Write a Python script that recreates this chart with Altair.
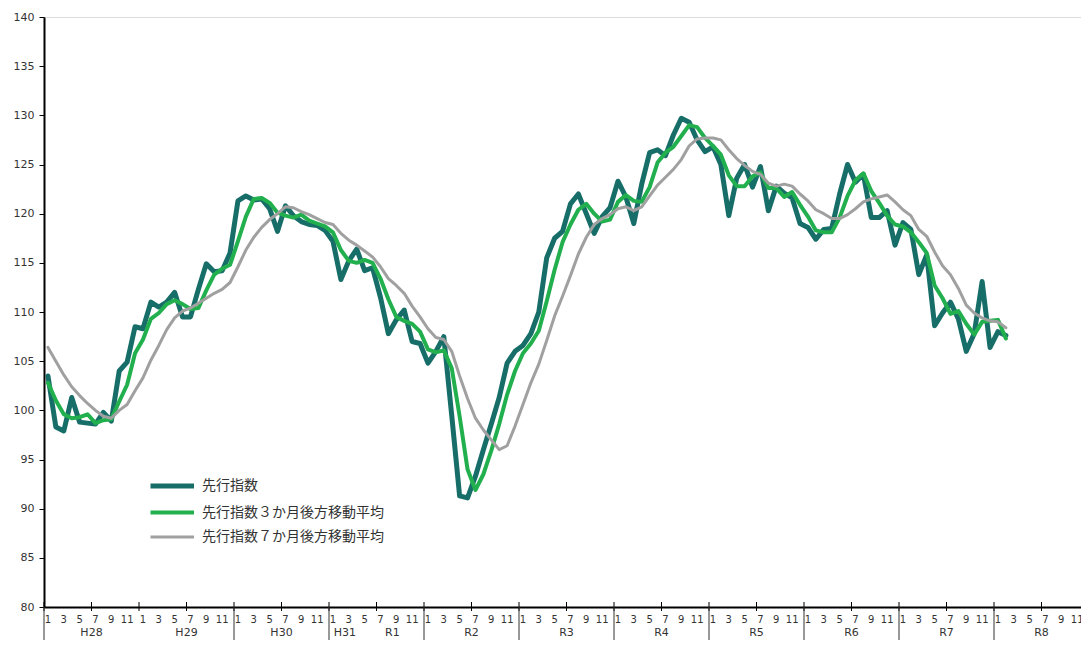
import altair as alt
import pandas as pd

# 先行指数 (monthly, from H28(2016) Jan)
leading = [
    103.5, 98.3, 97.9, 101.3, 98.8, 98.7, 98.6, 99.8, 98.9, 104.0, 104.9, 108.5,
    108.3, 111.0, 110.5, 111.0, 112.0, 109.5, 109.5, 112.3, 114.9, 114.1, 114.2, 116.0,
    121.3, 121.8, 121.4, 121.5, 120.5, 118.2, 120.8, 119.8, 119.2, 118.9, 118.8, 118.3,
    117.2, 113.3, 115.2, 116.4, 114.2, 114.5, 111.5, 107.8, 109.2, 110.2, 107.0, 106.8,
    104.8, 106.0, 107.5, 99.5, 91.3, 91.1, 93.3, 96.0, 98.6, 101.3, 104.8, 106.0,
    106.6, 107.8, 110.0, 115.5, 117.5, 118.2, 121.0, 122.0, 120.0, 118.0, 119.7, 120.6,
    123.3, 121.7, 119.0, 123.0, 126.2, 126.5, 125.9, 128.0, 129.7, 129.3, 127.5, 126.3,
    126.8, 125.0, 119.8, 123.6, 125.0, 122.7, 124.8, 120.3, 122.8, 122.1, 121.6, 119.0,
    118.6, 117.4, 118.4, 118.5, 122.0, 125.0, 123.2, 124.0, 119.6, 119.6, 120.3, 116.8,
    119.1, 118.4, 113.8, 115.8, 108.6, 109.9, 111.0, 109.3, 106.0, 107.8, 113.1, 106.4,
    108.0, 107.6,
]
# 先行指数３か月後方移動平均
ma3 = [
    102.8, 101.0, 99.6, 99.2, 99.3, 99.6, 98.7, 99.0, 99.1, 100.9, 102.6, 105.8,
    107.2, 109.3, 109.9, 110.8, 111.2, 110.8, 110.3, 110.4, 112.2, 113.8, 114.4, 114.8,
    117.2, 119.7, 121.5, 121.6, 121.1, 120.1, 119.8, 119.6, 119.9, 119.3, 119.0, 118.7,
    118.1, 116.3, 115.2, 115.0, 115.3, 115.0, 113.4, 111.3, 109.5, 109.1, 108.8, 108.0,
    106.2, 105.9, 106.1, 104.3, 99.4, 94.0, 91.9, 93.5, 95.9, 98.6, 101.6, 104.0,
    105.8, 106.8, 108.1, 111.1, 114.3, 117.1, 118.9, 120.4, 121.0, 120.0, 119.2, 119.4,
    121.2, 121.9, 121.3, 121.2, 122.7, 125.2, 126.2, 126.8, 127.9, 129.0, 128.8, 127.7,
    126.9, 126.0, 123.9, 122.8, 122.8, 123.8, 124.2, 122.6, 122.6, 121.7, 122.2, 120.9,
    119.7, 118.3, 118.1, 118.1, 119.6, 121.8, 123.4, 124.1, 122.3, 121.1, 119.8, 118.9,
    118.7, 118.1, 117.1, 116.0, 112.7, 111.4, 109.8, 110.1, 108.8, 107.7, 109.0, 109.1,
    109.2, 107.3,
]
# 先行指数７か月後方移動平均
ma7 = [
    106.4, 105.0, 103.6, 102.4, 101.5, 100.7, 100.0, 99.4, 99.2, 100.0, 100.6, 102.0,
    103.3, 105.1, 106.6, 108.2, 109.4, 110.1, 110.4, 110.9, 111.4, 111.9, 112.3, 113.0,
    114.6, 116.3, 117.6, 118.6, 119.4, 120.0, 120.7, 120.6, 120.2, 119.9, 119.5, 119.1,
    118.9, 118.0, 117.3, 116.8, 116.2, 115.6, 114.6, 113.4, 112.7, 111.9, 110.6, 109.5,
    108.3, 107.4, 107.2, 106.0, 103.5, 101.2, 99.2, 98.0, 97.0, 96.0, 96.4, 98.4,
    100.6, 102.8, 104.7, 107.1, 109.6, 111.6, 113.7, 115.9, 117.6, 118.9, 119.5, 119.9,
    120.5, 120.7, 120.3, 120.7, 121.8, 122.9, 123.7, 124.5, 125.5, 126.9, 127.6, 127.7,
    127.7, 127.5, 126.5, 125.6, 124.9, 124.3, 124.0, 123.1, 122.8, 123.0, 122.8, 122.0,
    121.3, 120.4, 120.0, 119.5, 119.5, 119.9, 120.5, 121.2, 121.5, 121.7, 121.9, 121.2,
    120.4, 119.8, 118.4, 117.7, 116.1, 114.7, 113.8, 112.4, 110.7, 109.9, 109.4, 109.1,
    109.0, 108.4,
]

series_names = ["先行指数", "先行指数３か月後方移動平均", "先行指数７か月後方移動平均"]
series_colors = ["#176e69", "#22b04e", "#a0a0a0"]
series_widths = [5.0, 3.0, 1.6]

# era labels (start month index, end month index)
era_labels = ["H28", "H29", "H30", "H31", "R1", "R2", "R3", "R4", "R5", "R6", "R7", "R8"]
era_start = [0, 12, 24, 36, 40, 48, 60, 72, 84, 96, 108, 120]
era_end = [12, 24, 36, 40, 48, 60, 72, 84, 96, 108, 120, 132]
separator_pos = [0, 24, 36, 48, 60, 72, 84, 96, 108, 120, 132]
tick_pos = list(range(0, 133, 6))
month_labels = ["1", "3", "5", "7", "9", "11"]
n_years = 11

rows = []
for name, vals in zip(series_names, [leading, ma3, ma7]):
    for i, v in enumerate(vals):
        rows.append({"series": name, "t": i + 0.5, "value": v})
df = pd.DataFrame(rows)

month_df = pd.DataFrame({
    "pos": [y * 12 + int(m) - 1 + 0.5 for y in range(n_years) for m in month_labels],
    "label": [m for y in range(n_years) for m in month_labels],
})
era_df = pd.DataFrame({
    "label": era_labels,
    "center": [(a + b) / 2 for a, b in zip(era_start, era_end)],
})
sep_df = pd.DataFrame({"pos": separator_pos})
tick_df = pd.DataFrame({"pos": tick_pos})

W, H = 1045, 590
xscale = alt.Scale(domain=[0, 132], nice=False, zero=False)
yscale = alt.Scale(domain=[80, 140], nice=False, zero=False)

leg = dict(orient="none", legendX=104, legendY=452, title=None,
           symbolType="M-1,0H2", symbolSize=841, labelOffset=20,
           rowPadding=0, padding=0,
           labelFont="Noto Sans CJK JP", labelFontSize=14,
           labelColor="#333333", labelLimit=400)

lines = alt.Chart(df).mark_line(strokeJoin="round", strokeCap="round").encode(
    x=alt.X("t:Q", scale=xscale, axis=alt.Axis(
        labels=False, ticks=False, domainColor="black", domainWidth=2,
        grid=False, title=None)),
    y=alt.Y("value:Q", scale=yscale, axis=alt.Axis(
        values=list(range(80, 141, 5)), tickSize=5, tickColor="black",
        labelPadding=5, labelFont="DejaVu Sans", labelFontSize=11, labelColor="#333333",
        domainColor="black", domainWidth=2, grid=False, title=None)),
    color=alt.Color("series:N", scale=alt.Scale(domain=series_names, range=series_colors),
                    legend=alt.Legend(**leg)),
    strokeWidth=alt.StrokeWidth("series:N",
                                scale=alt.Scale(domain=series_names, range=series_widths),
                                legend=alt.Legend(**leg)),
)

ticks = alt.Chart(tick_df).mark_rule(color="black", strokeWidth=1).encode(
    x=alt.X("pos:Q", scale=xscale),
    y=alt.value(H - 5), y2=alt.value(H + 4),
)

seps = alt.Chart(sep_df).mark_rule(color="#333333", strokeWidth=1).encode(
    x=alt.X("pos:Q", scale=xscale),
    y=alt.value(H), y2=alt.value(H + 80),
)

months = alt.Chart(month_df).mark_text(font="DejaVu Sans", fontSize=10, color="#333333",
                                       baseline="middle", align="center").encode(
    x=alt.X("pos:Q", scale=xscale),
    y=alt.value(H + 13),
    text="label:N",
)

eras = alt.Chart(era_df).mark_text(font="DejaVu Sans", fontSize=11, color="#333333",
                                   baseline="middle", align="center").encode(
    x=alt.X("center:Q", scale=xscale),
    y=alt.value(H + 26),
    text="label:N",
)

chart = alt.layer(lines, ticks, seps, months, eras).properties(
    width=W, height=H,
    autosize=alt.AutoSizeParams(type="none"),
    padding={"left": 36, "top": 9, "right": -8, "bottom": 33},
).configure_view(stroke="black", strokeWidth=1.5).configure(background="white")

chart.save("out.html", embed_options={"renderer": "svg", "actions": False})
